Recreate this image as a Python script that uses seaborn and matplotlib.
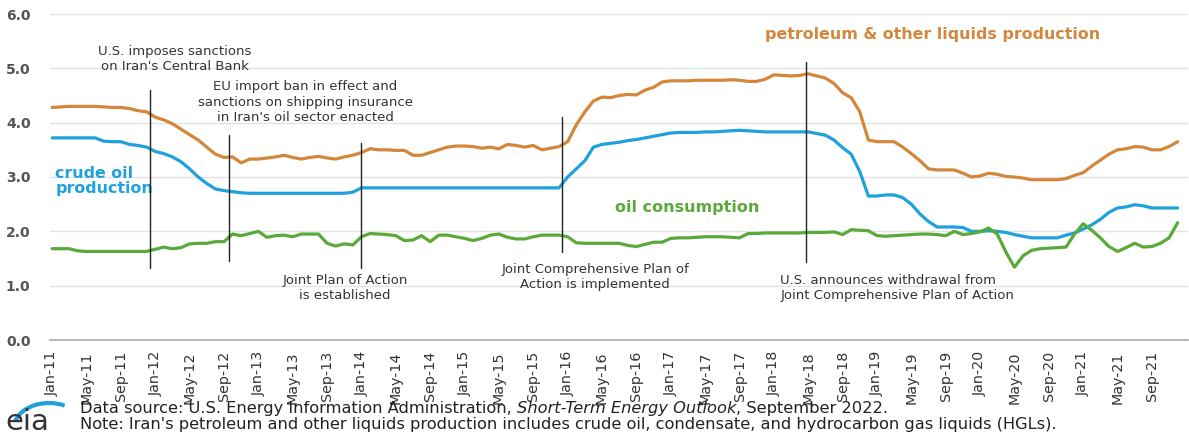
import matplotlib
matplotlib.use("Agg")
import matplotlib.pyplot as plt
import seaborn as sns
import pandas as pd
from matplotlib.patches import Arc

# monthly values, Jan-11 .. Dec-21 (million barrels per day)
petroleum = [
    4.28, 4.29, 4.30, 4.30, 4.30, 4.30, 4.29, 4.28, 4.28, 4.26, 4.22, 4.20,
    4.10, 4.05, 3.98, 3.88, 3.78, 3.68, 3.55, 3.42, 3.36, 3.37, 3.26, 3.33,
    3.33, 3.35, 3.37, 3.40, 3.36, 3.33, 3.36, 3.38, 3.35, 3.33, 3.37, 3.40,
    3.45, 3.52, 3.50, 3.50, 3.49, 3.49, 3.40, 3.40, 3.45, 3.50, 3.55, 3.57,
    3.57, 3.56, 3.53, 3.55, 3.52, 3.60, 3.58, 3.55, 3.58, 3.50, 3.53, 3.56,
    3.65, 3.96, 4.20, 4.40, 4.47, 4.46, 4.50, 4.52, 4.51, 4.60, 4.65, 4.75,
    4.77, 4.77, 4.77, 4.78, 4.78, 4.78, 4.78, 4.79, 4.78, 4.76, 4.76, 4.80,
    4.88, 4.87, 4.86, 4.87, 4.90, 4.86, 4.82, 4.72, 4.55, 4.46, 4.20, 3.68,
    3.65, 3.65, 3.65, 3.55, 3.43, 3.30, 3.15, 3.13, 3.13, 3.13, 3.07, 3.00,
    3.02, 3.07, 3.05, 3.01, 3.00, 2.98, 2.95, 2.95, 2.95, 2.95, 2.97, 3.03,
    3.08, 3.20, 3.31, 3.42, 3.50, 3.52, 3.56, 3.55, 3.50, 3.50, 3.56, 3.65,
]
crude = [
    3.72, 3.72, 3.72, 3.72, 3.72, 3.72, 3.66, 3.65, 3.65, 3.60, 3.58, 3.55,
    3.47, 3.43, 3.37, 3.28, 3.15, 3.00, 2.88, 2.78, 2.75, 2.73, 2.71, 2.70,
    2.70, 2.70, 2.70, 2.70, 2.70, 2.70, 2.70, 2.70, 2.70, 2.70, 2.70, 2.72,
    2.80, 2.80, 2.80, 2.80, 2.80, 2.80, 2.80, 2.80, 2.80, 2.80, 2.80, 2.80,
    2.80, 2.80, 2.80, 2.80, 2.80, 2.80, 2.80, 2.80, 2.80, 2.80, 2.80, 2.80,
    3.00, 3.15, 3.30, 3.55, 3.60, 3.62, 3.64, 3.67, 3.69, 3.72, 3.75, 3.78,
    3.81, 3.82, 3.82, 3.82, 3.83, 3.83, 3.84, 3.85, 3.86, 3.85, 3.84, 3.83,
    3.83, 3.83, 3.83, 3.83, 3.83, 3.80, 3.77, 3.68, 3.54, 3.42, 3.10, 2.65,
    2.65, 2.67, 2.67, 2.62, 2.50, 2.32, 2.18, 2.08, 2.08, 2.08, 2.07, 2.00,
    2.00, 2.01, 2.00, 1.98, 1.94, 1.91, 1.88, 1.88, 1.88, 1.88, 1.93, 1.97,
    2.04, 2.12, 2.22, 2.35, 2.43, 2.45, 2.49, 2.47, 2.43, 2.43, 2.43, 2.43,
]
consumption = [
    1.68, 1.68, 1.68, 1.64, 1.63, 1.63, 1.63, 1.63, 1.63, 1.63, 1.63, 1.63,
    1.67, 1.71, 1.68, 1.70, 1.77, 1.78, 1.78, 1.81, 1.81, 1.95, 1.92, 1.96,
    2.00, 1.89, 1.92, 1.93, 1.90, 1.95, 1.95, 1.95, 1.78, 1.73, 1.77, 1.75,
    1.90, 1.96, 1.95, 1.94, 1.92, 1.83, 1.84, 1.92, 1.81, 1.93, 1.93, 1.90,
    1.87, 1.83, 1.87, 1.93, 1.95, 1.89, 1.86, 1.86, 1.90, 1.93, 1.93, 1.93,
    1.90, 1.79, 1.78, 1.78, 1.78, 1.78, 1.78, 1.74, 1.72, 1.76, 1.80, 1.80,
    1.87, 1.88, 1.88, 1.89, 1.90, 1.90, 1.90, 1.89, 1.88, 1.96, 1.96, 1.97,
    1.97, 1.97, 1.97, 1.97, 1.98, 1.98, 1.98, 1.99, 1.94, 2.03, 2.02, 2.01,
    1.92, 1.91, 1.92, 1.93, 1.94, 1.95, 1.95, 1.94, 1.92, 2.00, 1.94, 1.96,
    1.99, 2.06, 1.95, 1.62, 1.34, 1.55, 1.65, 1.68, 1.69, 1.70, 1.71, 1.95,
    2.14, 2.02, 1.88, 1.72, 1.63, 1.70, 1.78, 1.71, 1.72, 1.78, 1.88, 2.16,
]
months = pd.date_range("2011-01-01", periods=len(petroleum), freq="MS")
month_labels = [d.strftime("%b-%y") for d in months]

# event markers: month position, line top, line bottom
event_pos = [11.4, 20.6, 35.9, 59.3, 87.7]
event_top = [4.60, 3.78, 3.63, 4.10, 5.12]
event_bottom = [1.33, 1.45, 1.33, 1.62, 1.44]

c_pet = "#D4873A"
c_crude = "#1EA1DC"
c_cons = "#5AAA3A"

df = pd.DataFrame({
    "m": range(len(petroleum)),
    "petroleum": petroleum,
    "crude": crude,
    "consumption": consumption,
}).melt(id_vars="m", var_name="series", value_name="value")

sns.set_style("white")
plt.rcParams["font.family"] = ["DejaVu Sans"]

fig = plt.figure(figsize=(11.89, 4.34), dpi=100)
ax = fig.add_axes([50 / 1189, 1 - 340 / 434, 1138 / 1189, 326 / 434])

sns.lineplot(data=df, x="m", y="value", hue="series",
             palette={"petroleum": c_pet, "crude": c_crude, "consumption": c_cons},
             linewidth=2.3, legend=False, ax=ax)

for x, t, b in zip(event_pos, event_top, event_bottom):
    ax.plot([x, x], [b, t], color="#222222", linewidth=1.0, zorder=5)

ax.set_xlim(-0.25, 132.2)
ax.set_ylim(0, 6.0)
ax.set_yticks(range(7))
ax.set_yticklabels([f"{v:.1f}" for v in range(7)], color="#555555",
                   fontsize=10, fontweight="bold")
ax.yaxis.grid(True, color="#E3E3E3", linewidth=1)
ax.set_axisbelow(True)
ax.tick_params(axis="y", length=0, pad=14)

ticks = list(range(0, len(month_labels), 4))
ax.set_xticks(ticks)
ax.set_xticklabels([month_labels[i] for i in ticks], rotation=90,
                   fontsize=10.3, color="#333333")
ax.tick_params(axis="x", length=5, color="#AAAAAA", width=1, pad=3)
ax.set_xlabel("")
ax.set_ylabel("")
for s in ["left", "right", "top"]:
    ax.spines[s].set_visible(False)
ax.spines["bottom"].set_color("#AAAAAA")
ax.spines["bottom"].set_linewidth(1.2)

ann = dict(fontsize=9.5, color="#333333", linespacing=1.25)
ax.text(14.3, 5.17, "U.S. imposes sanctions\non Iran's Central Bank",
        ha="center", va="center", **ann)
ax.text(29.5, 4.38, "EU import ban in effect and\nsanctions on shipping insurance\n"
        "in Iran's oil sector enacted", ha="center", va="center", **ann)
ax.text(34.1, 0.96, "Joint Plan of Action\nis established",
        ha="center", va="center", **ann)
ax.text(63.2, 1.16, "Joint Comprehensive Plan of\nAction is implemented",
        ha="center", va="center", **ann)
ax.text(84.75, 0.96, "U.S. announces withdrawal from\nJoint Comprehensive Plan of Action",
        ha="left", va="center", **ann)

ax.text(83.0, 5.62, "petroleum & other liquids production", color=c_pet,
        fontsize=11.4, fontweight="bold", ha="left", va="center")
ax.text(0.35, 2.93, "crude oil\nproduction", color=c_crude, fontsize=11.4,
        fontweight="bold", ha="left", va="center", linespacing=1.0)
ax.text(65.5, 2.43, "oil consumption", color=c_cons, fontsize=11.5,
        fontweight="bold", ha="left", va="center")

# footer
foot = dict(fontsize=11.7, color="#222222")
t1 = fig.text(80 / 1189, 1 - 409 / 434, "Data source: U.S. Energy Information Administration, ",
              va="center", ha="left", **foot)
t2 = ax.annotate("Short-Term Energy Outlook", xy=(1, 0), xycoords=t1,
                 va="bottom", ha="left", style="italic", **foot)
ax.annotate(", September 2022.", xy=(1, 0), xycoords=t2, va="bottom", ha="left", **foot)
fig.text(80 / 1189, 1 - 424 / 434,
         "Note: Iran's petroleum and other liquids production includes crude oil, "
         "condensate, and hydrocarbon gas liquids (HGLs).",
         va="center", ha="left", **foot)

# eia logo
fig.text(5 / 1189, 1 - 422 / 434, "eia", fontsize=21, color="#333333",
         va="center", ha="left")
logo = fig.add_axes([5 / 1189, 0, 70 / 1189, 36 / 434])
logo.set_xlim(0, 70)
logo.set_ylim(0, 36)
logo.axis("off")
logo.patch.set_alpha(0)
logo.add_patch(Arc((44, 6), 70, 50, theta1=55, theta2=168, color="#1EA1DC", linewidth=3))

fig.savefig("out.png", dpi=100)
